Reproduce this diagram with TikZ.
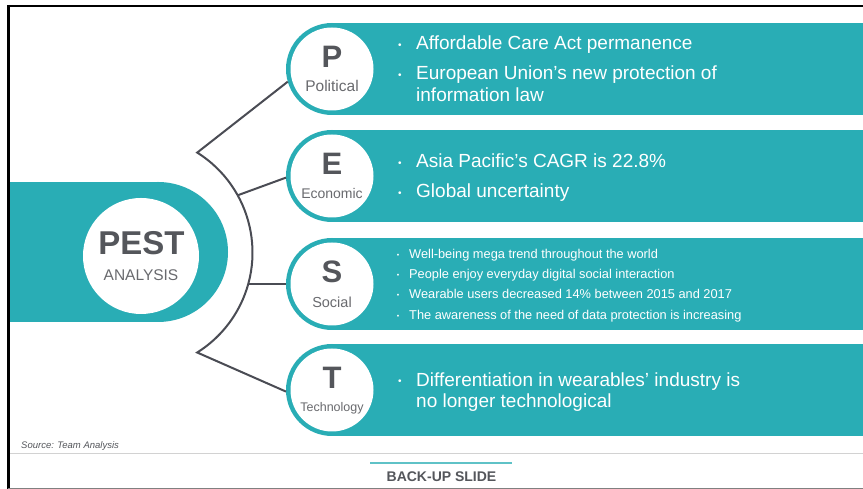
\documentclass[tikz,border=0pt]{standalone}
\usepackage{fontspec}
\setmainfont{Liberation Sans}
\definecolor{tealc}{RGB}{41,173,181}
\definecolor{dgray}{RGB}{84,86,91}
\definecolor{lgray}{RGB}{105,106,110}
\definecolor{linec}{RGB}{74,76,84}
\newcommand\bigdot{\makebox[18.6pt][l]{\hspace{0.6pt}\raisebox{1.6pt}{\fontsize{10}{10}\selectfont •}}}
\newcommand\smalldot{\makebox[12.8pt][l]{\hspace{0.4pt}\raisebox{0.9pt}{\fontsize{7}{7}\selectfont •}}}
\begin{document}
\begin{tikzpicture}[x=1pt,y=1pt,
  disk/.style={circle,fill=tealc,minimum size=92pt,inner sep=0pt,outer sep=0pt},
  hole/.style={circle,fill=white,minimum size=83pt,inner sep=0pt,outer sep=0pt},
  letter/.style={font=\fontsize{31}{31}\selectfont\bfseries,text=dgray,anchor=base,inner sep=0pt},
  sub/.style={text=lgray,anchor=base,inner sep=0pt},
  bul/.style={anchor=base west,inner sep=0pt,text=white,align=left},
  conn/.style={draw=linec,line width=2pt,line join=miter}]
\useasboundingbox (0,0) rectangle (863,489);
\fill[white] (0,0) rectangle (863,489);

% PEST band
\fill[tealc] (8,167) rectangle (158,307);
\fill[tealc] (158,237) circle[radius=70];
\node[circle,fill=white,minimum size=116pt,inner sep=0pt] (pest) at (141,233) {};
\node[anchor=base,inner sep=0pt,font=\fontsize{33}{33}\selectfont\bfseries,text=dgray] (pestt) at (141.5,234.5) {PEST};
\node[anchor=base,inner sep=0pt,font=\fontsize{15.5}{15.5}\selectfont,text=lgray] (pesta) at (141,208) {ANALYSIS};

% P band
\fill[tealc] (332,374) rectangle (863,466);
\node[disk] (P) at (332,420) {};
\node[hole] (Ph) at (332,420) {};
\node[letter] (Pl) at (332,421) {P};
\node[sub,font=\fontsize{15.5}{15.5}\selectfont] (Ps) at (332,397.5) {Political};
\node[bul,font=\fontsize{19}{22}\selectfont] (Pt) at (397.4,439) {\begin{tabular}[t]{@{}l@{}l@{}}\bigdot&Affordable Care Act permanence\\[8pt]
\bigdot&European Union’s new protection of\\
&information law\end{tabular}};

% E band
\fill[tealc] (332,267) rectangle (863,359);
\node[disk] (E) at (332,313) {};
\node[hole] (Eh) at (332,313) {};
\node[letter] (El) at (332,314) {E};
\node[sub,font=\fontsize{14}{14}\selectfont] (Es) at (332,290) {Economic};
\node[bul,font=\fontsize{19}{22}\selectfont] (Et) at (397.4,321) {\begin{tabular}[t]{@{}l@{}l@{}}\bigdot&Asia Pacific’s CAGR is 22.8\%\\[8pt]
\bigdot&Global uncertainty\end{tabular}};

% S band
\fill[tealc] (332,159) rectangle (863,251);
\node[disk] (S) at (332,205) {};
\node[hole] (Sh) at (332,205) {};
\node[letter] (Sl) at (332,206) {S};
\node[sub,font=\fontsize{14.5}{14.5}\selectfont] (Ss) at (332,181) {Social};
\node[bul,font=\fontsize{12.8}{20.2}\selectfont] (St) at (396.2,230.5) {\begin{tabular}[t]{@{}l@{}l@{}}\smalldot&Well-being mega trend throughout the world\\
\smalldot&People enjoy everyday digital social interaction\\
\smalldot&Wearable users decreased 14\% between 2015 and 2017\\
\smalldot&The awareness of the need of data protection is increasing\end{tabular}};

% T band
\fill[tealc] (332,53) rectangle (863,145);
\node[disk] (T) at (332,99) {};
\node[hole] (Th) at (332,99) {};
\node[letter] (Tl) at (332,100) {T};
\node[sub,font=\fontsize{12.5}{12.5}\selectfont] (Ts) at (332,77) {Technology};
\node[bul,font=\fontsize{19}{21.5}\selectfont] (Tt) at (397.4,102.5) {\begin{tabular}[t]{@{}l@{}l@{}}\bigdot&Differentiation in wearables’ industry is\\
&no longer technological\end{tabular}};

% connectors
\coordinate (tu) at (197.2,336.4);
\coordinate (ej) at (237.7,293.7);
\coordinate (sj) at (248.2,205);
\draw[conn] (P.196) -- (tu) arc[start angle=57.9,end angle=-57.9,radius=118] -- (T.182);
\draw[conn] (ej) -- (E.182);
\draw[conn] (sj) -- (S.180);

% footer
\draw[gray!35,line width=1.2pt] (8,35.5) -- (863,35.5);
\node[anchor=base west,inner sep=0pt,font=\fontsize{9.5}{9.5}\selectfont\itshape,text=dgray] (src) at (21,40) {Source: Team Analysis};
\draw[tealc!75,line width=2.2pt] (370,26.3) -- (512,26.3);
\node[anchor=base,inner sep=0pt,font=\fontsize{14}{14}\selectfont\bfseries,text=dgray] (bu) at (441.5,7.3) {BACK-UP SLIDE};

% frame
\draw[black,line width=2.2pt] (7,483) -- (863,483);
\draw[black,line width=2.7pt] (8.7,484) -- (8.7,0);
\draw[gray,line width=1.2pt] (8,0.8) -- (863,0.8);
\end{tikzpicture}
\end{document}
